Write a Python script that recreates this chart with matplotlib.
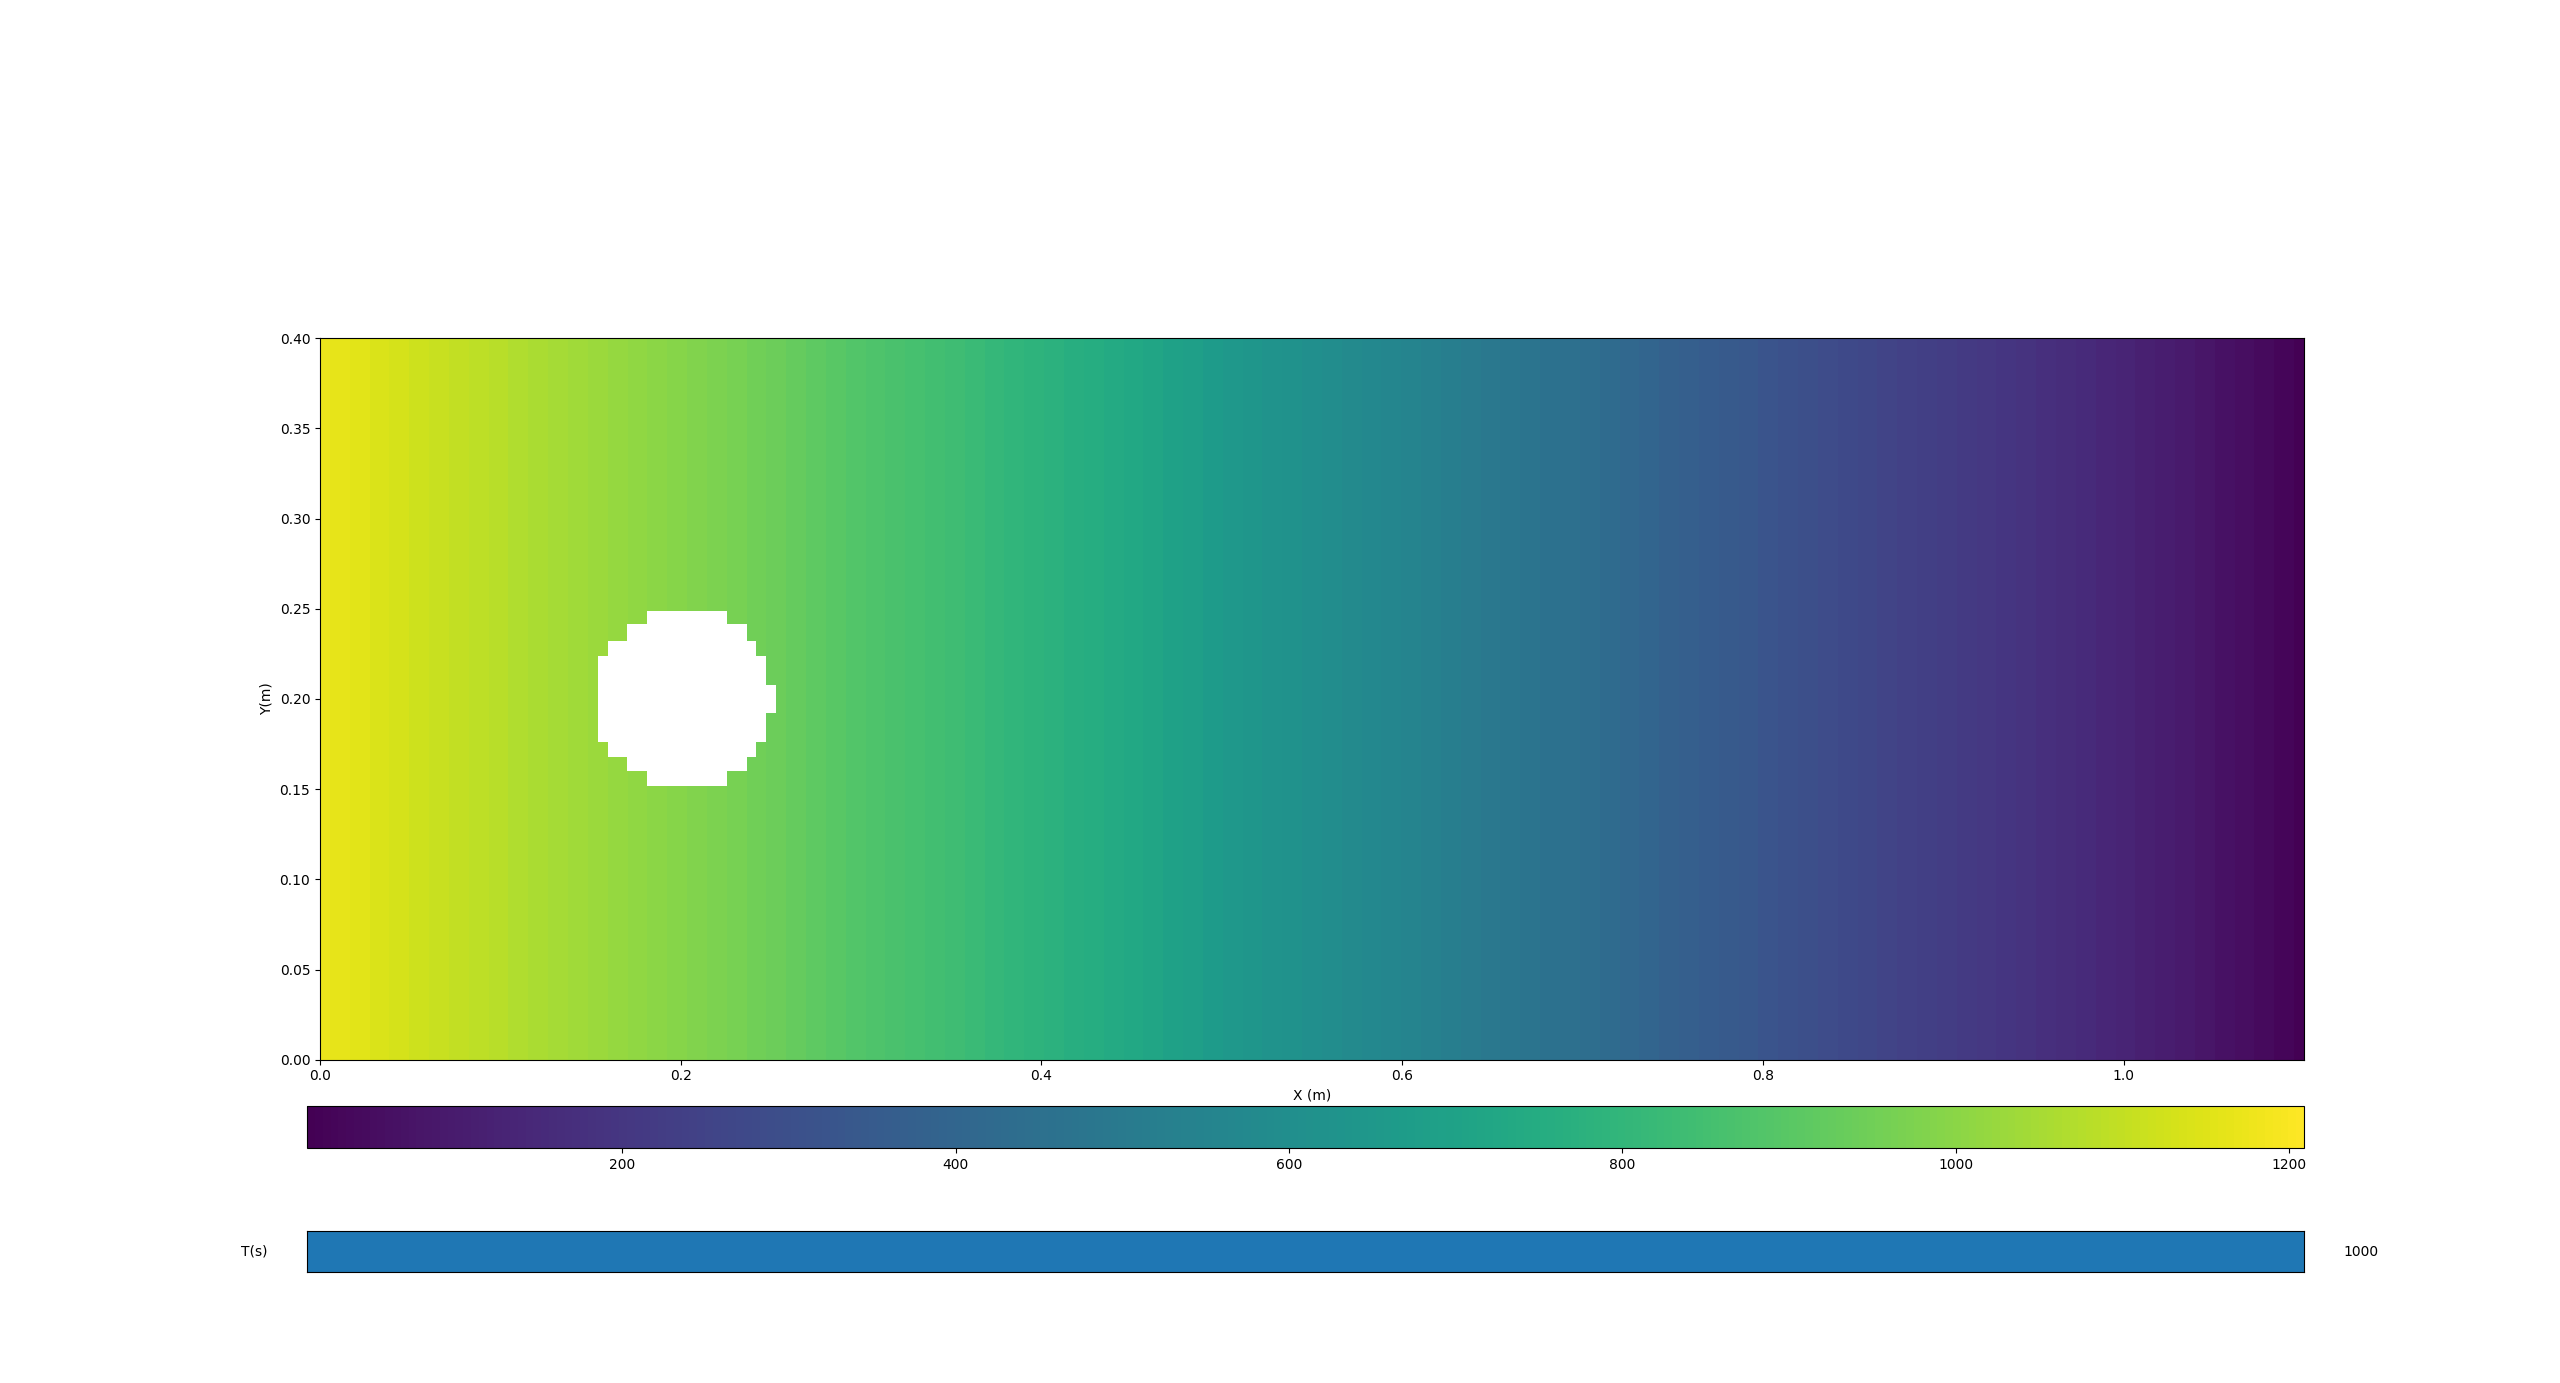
import numpy as np
import matplotlib
matplotlib.use("Agg")
import matplotlib.pyplot as plt

# temperature read along x (one value per grid column, x = 0 ... 1.1 m)
col_T = [1175, 1164, 1153, 1142, 1131, 1120, 1110, 1099, 1089, 1078,
         1068, 1058, 1048, 1038, 1028, 1019, 1010, 1001, 992, 982,
         971, 961, 950, 940, 926, 912, 899, 885, 875, 865,
         855, 845, 835, 822, 810, 797, 785, 774, 763, 752,
         741, 730, 714, 698, 681, 665, 652, 640, 627, 615,
         602, 592, 581, 571, 560, 550, 535, 520, 505, 490,
         480, 470, 460, 450, 440, 425, 410, 395, 380, 368,
         357, 345, 334, 322, 310, 299, 287, 275, 264, 254,
         243, 233, 222, 213, 204, 194, 185, 174, 163, 152,
         141, 130, 118, 105, 93, 80, 67, 54, 41, 28, 15]
nx = 101
ny = 50
Lx = 1.1
Ly = 0.4
vmin = 11
vmax = 1209

# solid cylinder (no temperature), one strip per cell row
hole_y0 = [0.2413, 0.2322, 0.2239, 0.2078, 0.1922, 0.1761, 0.1679, 0.1600, 0.1517]
hole_y1 = [0.2489, 0.2413, 0.2322, 0.2239, 0.2078, 0.1922, 0.1761, 0.1679, 0.1600]
hole_x0 = [0.1813, 0.1702, 0.1595, 0.1540, 0.1540, 0.1540, 0.1595, 0.1702, 0.1813]
hole_x1 = [0.2257, 0.2367, 0.2417, 0.2473, 0.2528, 0.2473, 0.2417, 0.2367, 0.2257]

t_min = 0
t_now = 1000
t_max = 1000

x = np.linspace(0, Lx, nx)
y = np.linspace(0, Ly, ny)
X, Y = np.meshgrid(x, y)
T = np.tile(np.array(col_T, dtype=float), (ny, 1))

fig = plt.figure(figsize=(25.6, 13.83), dpi=100)
ax = fig.add_axes([0.125, 0.2331, 0.775, 0.523])
mesh = ax.pcolormesh(X, Y, T, shading='nearest', cmap='viridis', vmin=vmin, vmax=vmax)
ax.barh(hole_y0, np.array(hole_x1) - np.array(hole_x0), height=np.array(hole_y1) - np.array(hole_y0),
        left=hole_x0, align='edge', color='white', linewidth=0, zorder=3)
ax.set_xlim(0, Lx)
ax.set_ylim(0, Ly)
ax.set_aspect('equal')
ax.set_xlabel("X (m)")
ax.set_ylabel("Y(m)")

cax = fig.add_axes([0.12, 0.17, 0.78, 0.03])
fig.colorbar(mesh, cax=cax, orientation='horizontal')

sax = fig.add_axes([0.12, 0.08, 0.78, 0.03])
sax.barh([0.5], [t_now - t_min], left=t_min, height=1, color='#1f77b4')
sax.set_xlim(t_min, t_max)
sax.set_ylim(0, 1)
sax.set_xticks([])
sax.set_yticks([])
sax.text(-0.02, 0.5, "T(s)", transform=sax.transAxes, ha='right', va='center')
sax.text(1.02, 0.5, "%d" % t_now, transform=sax.transAxes, ha='left', va='center')

fig.savefig("out.png", dpi=100)
